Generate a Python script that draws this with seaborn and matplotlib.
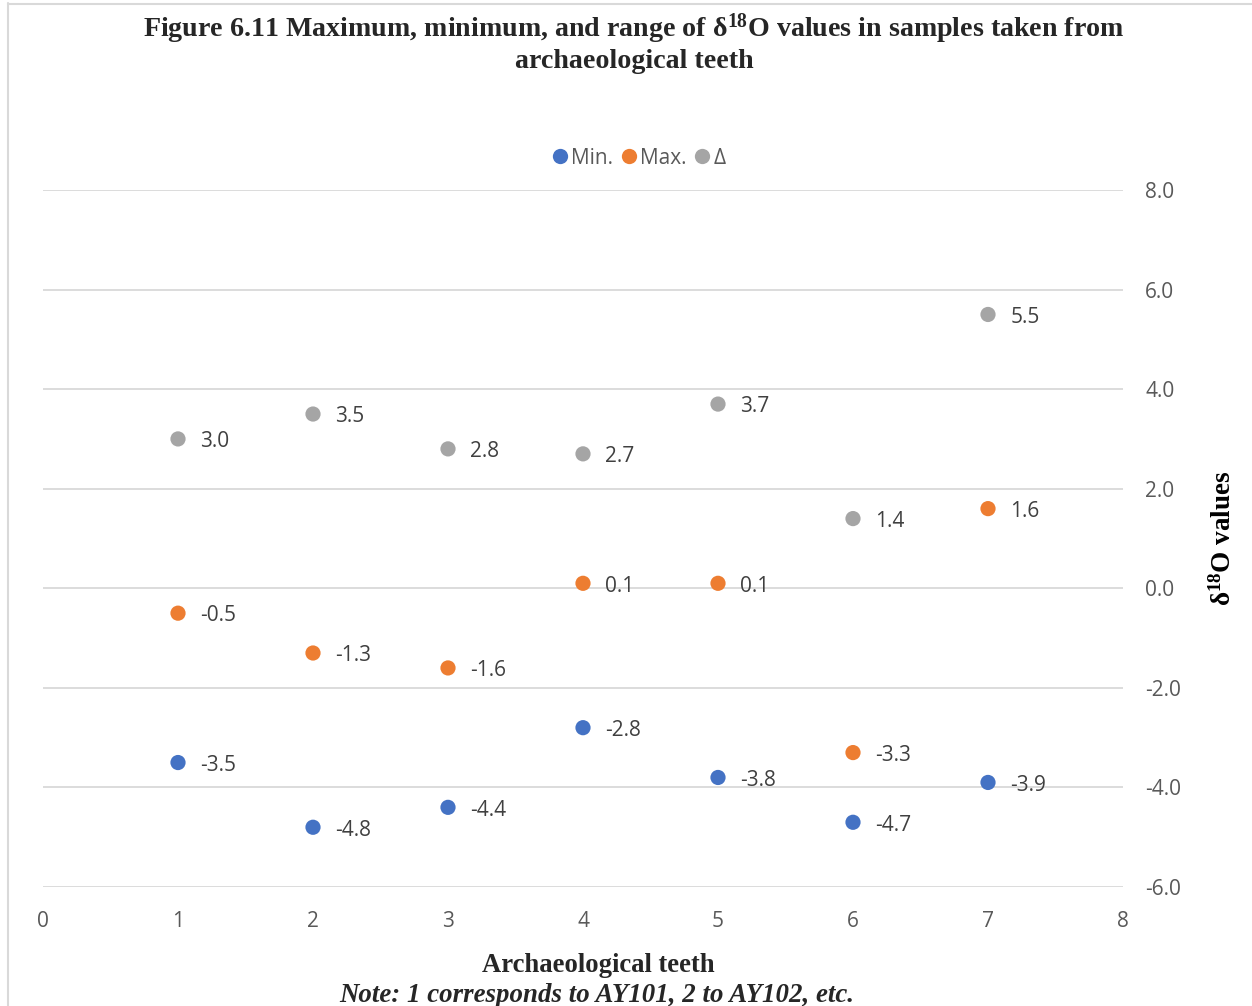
import matplotlib
matplotlib.use("Agg")
import matplotlib.pyplot as plt
from matplotlib.lines import Line2D
import seaborn as sns
import pandas as pd

teeth = [1, 2, 3, 4, 5, 6, 7]
min_vals = [-3.5, -4.8, -4.4, -2.8, -3.8, -4.7, -3.9]
max_vals = [-0.5, -1.3, -1.6, 0.1, 0.1, -3.3, 1.6]
delta_vals = [3.0, 3.5, 2.8, 2.7, 3.7, 1.4, 5.5]
series_names = ["Min.", "Max.", "Δ"]
colors = ["#4472C4", "#ED7D31", "#A5A5A5"]
y_ticks = [-6.0, -4.0, -2.0, 0.0, 2.0, 4.0, 6.0, 8.0]
x_ticks = [0, 1, 2, 3, 4, 5, 6, 7, 8]

df = pd.DataFrame({
    "tooth": teeth * 3,
    "value": min_vals + max_vals + delta_vals,
    "series": [series_names[0]] * 7 + [series_names[1]] * 7 + [series_names[2]] * 7,
})

sns.set_theme(style="white")
plt.rcParams["font.family"] = ["Open Sans", "DejaVu Sans"]
plt.rcParams["mathtext.fontset"] = "custom"
plt.rcParams["mathtext.rm"] = "Liberation Serif:bold"
plt.rcParams["mathtext.it"] = "Liberation Serif:bold"
plt.rcParams["mathtext.bf"] = "Liberation Serif:bold"

fig = plt.figure(figsize=(12.52, 10.06), dpi=100)
fig.patch.set_facecolor("white")
ax = fig.add_axes([43 / 1252, 119 / 1006, 1080 / 1252, 697 / 1006])

sns.scatterplot(data=df, x="tooth", y="value", hue="series", palette=colors,
                hue_order=series_names, s=120, edgecolor="none", ax=ax, zorder=3,
                legend=False)

for name, vals in zip(series_names, [min_vals, max_vals, delta_vals]):
    for x, y in zip(teeth, vals):
        ax.annotate(f"{y:.1f}", (x, y), xytext=(16, -2), textcoords="offset points",
                    ha="left", va="center", fontsize=15, color="#404040", zorder=4)

ax.set_xlim(0, 8)
ax.set_ylim(-6, 8)
ax.set_xticks(x_ticks)
ax.set_xticklabels([str(v) for v in x_ticks])
ax.set_yticks(y_ticks)
ax.set_yticklabels([f"{v:.1f}" for v in y_ticks])
ax.yaxis.tick_right()
ax.yaxis.set_label_position("right")
ax.tick_params(axis="both", length=0, labelsize=15, labelcolor="#595959")
ax.tick_params(axis="y", pad=16)
ax.tick_params(axis="x", pad=17)
ax.grid(axis="y", color="#D9D9D9", linewidth=1.3)
ax.grid(axis="x", visible=False)
for sp in ax.spines.values():
    sp.set_visible(False)
ax.set_xlabel("")
ax.set_ylabel(r"δ$^{18}$O values", fontsize=19.5, fontweight="bold",
              family="Liberation Serif", labelpad=21, color="black")

handles = [Line2D([0], [0], marker="o", linestyle="none", markersize=11,
                  markerfacecolor=c, markeredgecolor="none") for c in colors]
fig.legend(handles, series_names, loc="center", bbox_to_anchor=(637 / 1252, 1 - 158 / 1006),
           ncol=3, frameon=False, fontsize=15, handletextpad=0.0, columnspacing=0.2,
           handlelength=1.1, labelcolor="#595959")

fig.text(634 / 1252, 1 - 29 / 1006,
         r"Figure 6.11 Maximum, minimum, and range of δ$^{18}$O values in samples taken from",
         ha="center", va="center", fontsize=20.2, fontweight="bold", family="Liberation Serif")
fig.text(634 / 1252, 1 - 61 / 1006, "archaeological teeth",
         ha="center", va="center", fontsize=20.2, fontweight="bold", family="Liberation Serif")
fig.text(598 / 1252, 1 - 966 / 1006, "Archaeological teeth",
         ha="center", va="center", fontsize=19.2, fontweight="bold", family="Liberation Serif")
fig.text(597 / 1252, 1 - 995 / 1006, "Note: 1 corresponds to AY101, 2 to AY102, etc.",
         ha="center", va="center", fontsize=19.4, fontweight="bold", fontstyle="italic",
         family="Liberation Serif")

fig.add_artist(Line2D([7.5 / 1252, 7.5 / 1252], [0, 1 - 3 / 1006], color="#D9D9D9",
                      linewidth=1.5, transform=fig.transFigure))
fig.add_artist(Line2D([7.5 / 1252, 1], [1 - 3.5 / 1006, 1 - 3.5 / 1006], color="#D9D9D9",
                      linewidth=1.5, transform=fig.transFigure))

fig.savefig("out.png", dpi=100, facecolor="white")
